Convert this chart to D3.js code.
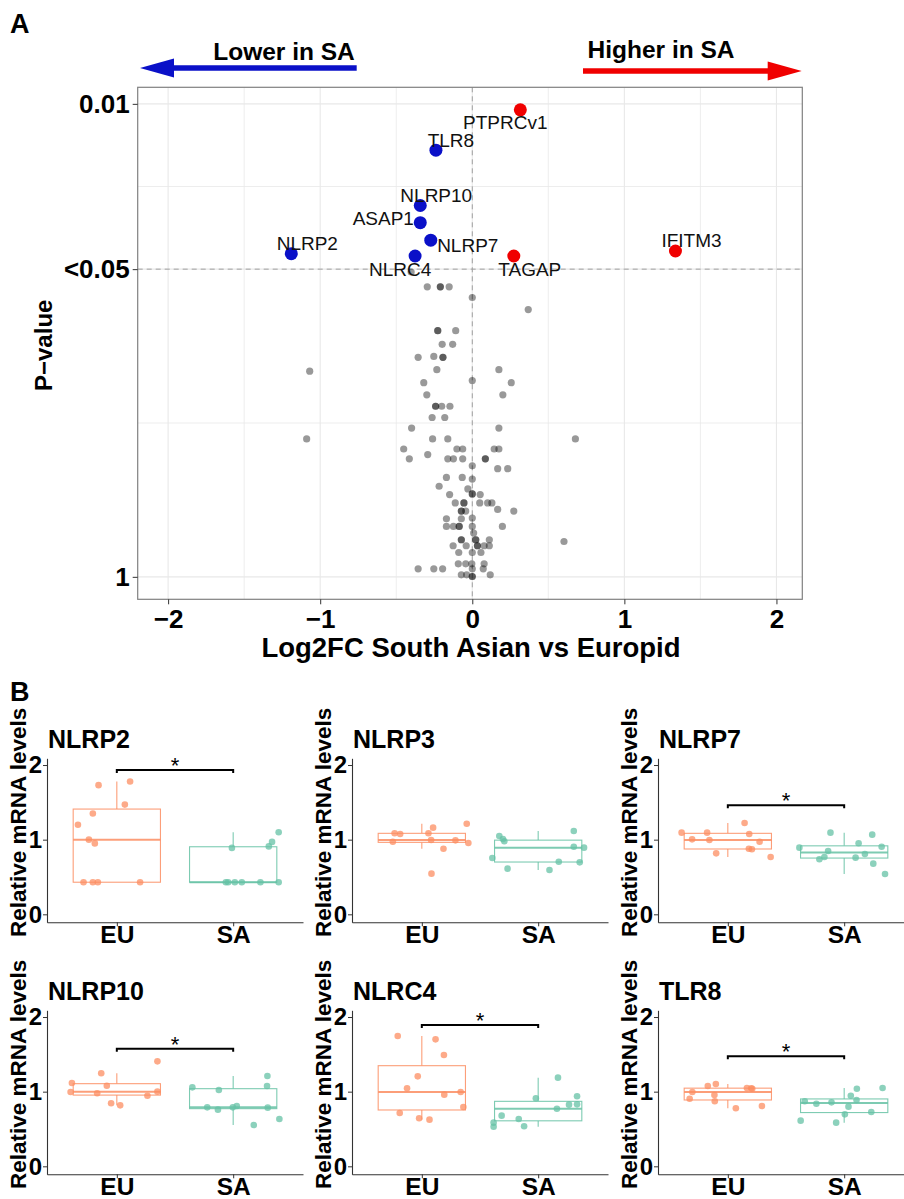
<!DOCTYPE html>
<html>
<head>
<meta charset="utf-8">
<script src="https://cdn.jsdelivr.net/npm/d3@7"></script>
<style>
  body { margin: 0; background: #fff; }
  svg { font-family: "Liberation Sans", Arial, Helvetica, sans-serif; }
</style>
</head>
<body>
<svg id="chart" width="904" height="1199"></svg>
<script>
// ---- Panel A: volcano plot ----
const geneLabels = ['PTPRCv1', 'TLR8', 'NLRP10', 'ASAP1', 'NLRP7', 'NLRP2', 'NLRC4', 'TAGAP', 'IFITM3'];
const geneLog2FC = [0.316, -0.239, -0.342, -0.342, -0.273, -1.190, -0.376, 0.273, 1.336];
const genePValue = [0.0106, 0.0157, 0.0269, 0.0318, 0.0377, 0.0430, 0.0440, 0.0440, 0.0419];

const otherLog2FC = [
  -0.402, -0.296, -0.210, -0.210, -0.152, 0, 0.368, -0.227, -0.227, -0.109,
  -0.198, -0.129, -0.356, -0.253, -0.193, -0.193, -1.069, -0.233, 0.175, -0.319,
  0, 0.256, -0.299, 0.201, -0.241, -0.241, -0.201, -0.147, -0.264, -0.181,
  -0.399, 0.175, -1.089, -0.261, -0.161, 0.678, -0.451, -0.101, -0.063, 0.144,
  0.175, -0.414, -0.293, -0.161, -0.124, -0.063, 0.086, 0.086, 0, 0.167,
  0.233, -0.170, -0.066, 0, -0.218, -0.029, 0, 0, -0.149, 0.052,
  -0.112, -0.055, -0.055, 0.049, 0.101, 0.129, 0.167, 0.273, -0.072, -0.072,
  -0.043, -0.170, -0.072, 0, -0.170, -0.124, -0.086, -0.086, 0, 0.198,
  0.009, -0.072, -0.072, 0.023, 0.023, 0.112, 0.603, -0.126, -0.040, 0.034,
  0.034, 0.078, 0.112, -0.089, 0, 0.057, -0.092, -0.043, -0.003, 0.078,
  -0.356, -0.253, -0.195, 0, 0.072, -0.072, -0.037, 0, 0, 0.118
];
const otherPValue = [
  0.0514, 0.0594, 0.0594, 0.0594, 0.0594, 0.0659, 0.0741, 0.0910, 0.0910, 0.0910,
  0.104, 0.104, 0.118, 0.117, 0.118, 0.118, 0.135, 0.133, 0.133, 0.151,
  0.148, 0.151, 0.170, 0.170, 0.190, 0.190, 0.190, 0.190, 0.212, 0.212,
  0.235, 0.235, 0.261, 0.261, 0.261, 0.261, 0.288, 0.288, 0.288, 0.288,
  0.288, 0.317, 0.304, 0.317, 0.317, 0.317, 0.317, 0.317, 0.339, 0.349,
  0.349, 0.380, 0.380, 0.386, 0.414, 0.425, 0.446, 0.446, 0.449, 0.449,
  0.487, 0.487, 0.487, 0.487, 0.487, 0.487, 0.519, 0.527, 0.527, 0.527,
  0.527, 0.568, 0.568, 0.564, 0.612, 0.612, 0.612, 0.612, 0.612, 0.612,
  0.653, 0.697, 0.697, 0.697, 0.697, 0.697, 0.709, 0.739, 0.739, 0.739,
  0.739, 0.739, 0.739, 0.789, 0.789, 0.789, 0.881, 0.881, 0.881, 0.881,
  0.925, 0.925, 0.925, 0.925, 0.925, 0.981, 0.981, 0.997, 0.997, 0.981
];

const fcTicks = [-2, -1, 0, 1, 2];
const pTickValues = [0.01, 0.05, 1];
const pTickLabels = ['0.01', '<0.05', '1'];

// ---- Panel B: relative mRNA boxplots ----
const groups = ['EU', 'SA'];
const boxGenes = ['NLRP2', 'NLRP3', 'NLRP7', 'NLRP10', 'NLRC4', 'TLR8'];
const euValues = [
  [1.73, 1.78, 1.47, 1.35, 1.20, 1.00, 0.95, 0.43, 0.43, 0.43, 0.43],
  [1.085, 1.076, 0.973, 1.085, 1.161, 1.214, 0.996, 0.991, 0.955, 0.879, 0.545],
  [1.094, 1.004, 1.094, 0.996, 0.817, 1.223, 1.076, 0.879, 0.871, 0.973, 0.768],
  [1.116, 0.996, 0.978, 1.246, 1.080, 0.844, 0.817, 0.946, 1.0, 1.406],
  [1.746, 1.701, 1.491, 1.205, 1.045, 0.960, 0.996, 0.795, 0.714, 0.643, 0.625],
  [0.906, 0.996, 1.076, 1.103, 0.955, 0.871, 0.777, 1.049, 1.045, 1.040, 0.808]
];
const euJitter = [
  [-0.157, 0.114, 0.069, -0.206, -0.334, -0.24, -0.189, -0.286, -0.206, -0.163, 0.2],
  [-0.234, -0.186, -0.249, 0.057, 0.097, 0.386, 0.08, 0.289, 0.4, 0.186, 0.083],
  [-0.397, -0.307, -0.178, -0.158, -0.1, 0.144, 0.184, 0.181, 0.207, 0.273, 0.368],
  [-0.386, -0.397, -0.169, -0.134, -0.086, -0.049, 0.029, 0.263, 0.349, 0.349],
  [-0.207, 0.118, 0.19, -0.035, -0.127, 0.193, 0.334, 0.357, -0.19, -0.023, 0.066],
  [-0.328, -0.305, -0.172, -0.103, -0.115, -0.112, 0.069, 0.164, 0.201, 0.21, 0.293]
];
const saValues = [
  [0.89, 1.10, 0.97, 0.91, 0.43, 0.43, 0.43, 0.43, 0.43, 0.43],
  [1.049, 1.009, 0.978, 0.754, 0.612, 0.705, 0.594, 0.696, 1.116, 0.906, 0.893],
  [0.893, 0.737, 0.768, 0.848, 1.094, 0.951, 0.759, 0.808, 1.067, 0.679, 0.906, 0.54],
  [1.058, 0.790, 0.759, 1.022, 0.790, 0.808, 0.554, 1.076, 1.210, 0.786, 0.634],
  [0.585, 0.531, 0.679, 0.634, 0.536, 0.911, 0.772, 1.188, 0.826, 0.938, 0.830],
  [0.612, 0.871, 0.839, 0.857, 0.585, 0.696, 0.799, 0.946, 1.040, 0.888, 0.728, 1.049]
];
const saJitter = [
  [-0.011, 0.391, 0.334, 0.306, -0.063, -0.043, 0.014, 0.074, 0.234, 0.391],
  [-0.334, -0.303, -0.291, -0.394, -0.263, 0.177, 0.097, 0.357, 0.306, 0.306, 0.394],
  [-0.385, -0.213, -0.170, -0.138, -0.118, 0.124, 0.098, 0.178, 0.241, 0.25, 0.322, 0.351],
  [-0.351, -0.223, -0.131, -0.123, -0.003, 0.031, 0.177, 0.291, 0.294, 0.297, 0.397],
  [-0.383, -0.383, -0.314, -0.167, -0.121, -0.02, 0.161, 0.17, 0.265, 0.334, 0.334],
  [-0.374, -0.339, -0.239, -0.109, -0.069, 0.006, 0.037, 0.057, 0.109, 0.106, 0.233, 0.33]
];
const sigBarLevel = [1.933, null, 1.46, 1.576, 1.893, 1.473];
const mrnaTicks = [0, 1, 2];

// label nudges for the volcano labels (pixels, from the dot centre)
const labelNudge = {
  PTPRCv1: [-15, 12], TLR8: [15, -10], NLRP10: [16, -10], ASAP1: [-37, -5],
  NLRP7: [37, 5], NLRP2: [16, -11], NLRC4: [-15, 13], TAGAP: [16, 13], IFITM3: [16, -11]
};

const svg = d3.select('#chart');
const nlp = p => -Math.log10(p);

// ================= Panel A =================
const plotA = { left: 137.7, right: 802.3, top: 87.3, bottom: 599.3 };
const xA = d3.scaleLinear().domain([-2.2, 2.17]).range([plotA.left, plotA.right]);
const yA = d3.scaleLinear().domain([-0.095, 2.07]).range([plotA.bottom, plotA.top]);

svg.append('text').attr('x', 10).attr('y', 33)
  .attr('font-size', 27).attr('font-weight', 'bold').text('A');

const gA = svg.append('g');

// grid
const xGrid = [-2, -1.5, -1, -0.5, 0, 0.5, 1, 1.5, 2];
const yMajor = pTickValues.map(nlp);
const yGrid = [yMajor[0], (yMajor[0] + yMajor[1]) / 2, yMajor[1], yMajor[1] / 2, yMajor[2]];

gA.selectAll('.xgrid').data(xGrid).enter().append('line')
  .attr('x1', d => xA(d)).attr('x2', d => xA(d))
  .attr('y1', plotA.top).attr('y2', plotA.bottom)
  .attr('stroke', '#e8e8e8').attr('stroke-width', d => Number.isInteger(d) ? 1.1 : 0.8);
gA.selectAll('.ygrid').data(yGrid).enter().append('line')
  .attr('x1', plotA.left).attr('x2', plotA.right)
  .attr('y1', d => yA(d)).attr('y2', d => yA(d))
  .attr('stroke', '#e8e8e8').attr('stroke-width', (d, i) => i % 2 === 0 ? 1.1 : 0.8);

// dashed reference lines
gA.append('line')
  .attr('x1', xA(0)).attr('x2', xA(0)).attr('y1', plotA.top).attr('y2', plotA.bottom)
  .attr('stroke', '#a0a0a0').attr('stroke-dasharray', '5,4');
gA.append('line')
  .attr('x1', plotA.left).attr('x2', plotA.right).attr('y1', yA(nlp(0.05))).attr('y2', yA(nlp(0.05)))
  .attr('stroke', '#a0a0a0').attr('stroke-dasharray', '5,4');

// other genes
gA.selectAll('.other').data(otherLog2FC).enter().append('circle')
  .attr('cx', d => xA(d))
  .attr('cy', (d, i) => yA(nlp(otherPValue[i])))
  .attr('r', 3.6)
  .attr('fill', '#000').attr('fill-opacity', 0.4);

// significant genes
gA.selectAll('.sig').data(geneLabels).enter().append('circle')
  .attr('cx', (d, i) => xA(geneLog2FC[i]))
  .attr('cy', (d, i) => yA(nlp(genePValue[i])))
  .attr('r', 6.5)
  .attr('fill', (d, i) => geneLog2FC[i] > 0 ? '#f00000' : '#0a10c8');

gA.selectAll('.lab').data(geneLabels).enter().append('text')
  .attr('x', (d, i) => xA(geneLog2FC[i]) + labelNudge[d][0])
  .attr('y', (d, i) => yA(nlp(genePValue[i])) + labelNudge[d][1])
  .attr('dy', '0.36em')
  .attr('text-anchor', 'middle')
  .attr('font-size', 19)
  .attr('fill', '#111')
  .text(d => d);

// panel border
gA.append('rect')
  .attr('x', plotA.left).attr('y', plotA.top)
  .attr('width', plotA.right - plotA.left).attr('height', plotA.bottom - plotA.top)
  .attr('fill', 'none').attr('stroke', '#808080').attr('stroke-width', 1.2);

// axes
const axAx = gA.append('g').attr('transform', `translate(0,${plotA.bottom})`)
  .call(d3.axisBottom(xA).tickValues(fcTicks).tickFormat(d3.format('d'))
    .tickSize(5).tickSizeOuter(0).tickPadding(5));
const axAy = gA.append('g').attr('transform', `translate(${plotA.left},0)`)
  .call(d3.axisLeft(yA).tickValues(yMajor).tickFormat((d, i) => pTickLabels[i])
    .tickSize(5).tickSizeOuter(0).tickPadding(3));
[axAx, axAy].forEach(ax => {
  ax.select('.domain').remove();
  ax.selectAll('.tick line').attr('stroke', '#333');
  ax.selectAll('text').attr('font-size', 26).attr('font-weight', 'bold').attr('fill', '#000')
    .attr('font-family', '"Liberation Sans", Arial, sans-serif');
});

svg.append('text')
  .attr('x', 471).attr('y', 657)
  .attr('text-anchor', 'middle').attr('font-size', 27.5).attr('font-weight', 'bold')
  .text('Log2FC South Asian vs Europid');
svg.append('text')
  .attr('transform', `translate(52,${(plotA.top + plotA.bottom) / 2 + 2}) rotate(-90)`)
  .attr('text-anchor', 'middle').attr('font-size', 24).attr('font-weight', 'bold')
  .text('P\u2212value');

// direction arrows above the panel
function arrow(x0, x1, y, color) {
  const dir = Math.sign(x1 - x0);
  const headLen = 34, headHalf = 9.5;
  gA.append('line')
    .attr('x1', x0).attr('x2', x1 - dir * (headLen - 2)).attr('y1', y).attr('y2', y)
    .attr('stroke', color).attr('stroke-width', 5.6);
  gA.append('path')
    .attr('d', `M${x1},${y} L${x1 - dir * headLen},${y - headHalf} L${x1 - dir * headLen},${y + headHalf} Z`)
    .attr('fill', color);
}
arrow(xA(-0.76), xA(-2.185), 68, '#0a10c8');
arrow(xA(0.728), xA(2.166), 71, '#f00000');
svg.append('text').attr('x', 284).attr('y', 60).attr('text-anchor', 'middle')
  .attr('font-size', 24.5).attr('font-weight', 'bold').text('Lower in SA');
svg.append('text').attr('x', 661).attr('y', 58).attr('text-anchor', 'middle')
  .attr('font-size', 24.5).attr('font-weight', 'bold').text('Higher in SA');

// ================= Panel B =================
svg.append('text').attr('x', 10).attr('y', 701)
  .attr('font-size', 27).attr('font-weight', 'bold').text('B');

const groupColor = { EU: '#fc8d62', SA: '#66c2a5' };
const colLeft = [47, 352, 658];
const rowBottom = [922.3, 1174.3];
const panelW = 256, panelH = 164;

function boxStats(vals) {
  const s = vals.slice().sort(d3.ascending);
  const q1 = d3.quantileSorted(s, 0.25);
  const med = d3.quantileSorted(s, 0.5);
  const q3 = d3.quantileSorted(s, 0.75);
  const iqr = q3 - q1;
  const lo = d3.min(s.filter(v => v >= q1 - 1.5 * iqr));
  const hi = d3.max(s.filter(v => v <= q3 + 1.5 * iqr));
  return { q1, med, q3, lo, hi };
}

boxGenes.forEach((gene, i) => {
  const left = colLeft[i % 3];
  const bottom = rowBottom[Math.floor(i / 3)];
  const top = bottom - panelH;
  const x = d3.scalePoint().domain(groups).range([left, left + panelW]).padding(0.6);
  const y = d3.scaleLinear().domain([-0.107, 2.09]).range([bottom, top]);
  const step = x.step();
  const g = svg.append('g');

  const sets = { EU: [euValues[i], euJitter[i]], SA: [saValues[i], saJitter[i]] };

  groups.forEach(grp => {
    const [vals, jit] = sets[grp];
    const st = boxStats(vals);
    const cx = x(grp), hw = 0.375 * step, col = groupColor[grp];
    const bg = g.append('g').attr('stroke', col).attr('stroke-opacity', 0.85).attr('fill', 'none');
    bg.append('line').attr('x1', cx).attr('x2', cx).attr('y1', y(st.q3)).attr('y2', y(st.hi)).attr('stroke-width', 1.1);
    bg.append('line').attr('x1', cx).attr('x2', cx).attr('y1', y(st.q1)).attr('y2', y(st.lo)).attr('stroke-width', 1.1);
    bg.append('rect').attr('x', cx - hw).attr('width', 2 * hw)
      .attr('y', y(st.q3)).attr('height', Math.max(0.5, y(st.q1) - y(st.q3)))
      .attr('fill', '#fff').attr('stroke-width', 1.1);
    bg.append('line').attr('x1', cx - hw).attr('x2', cx + hw)
      .attr('y1', y(st.med)).attr('y2', y(st.med)).attr('stroke-width', 2);

    g.selectAll(null).data(vals).enter().append('circle')
      .attr('cx', (d, k) => cx + jit[k] * step)
      .attr('cy', d => y(d))
      .attr('r', 3.3)
      .attr('fill', col).attr('fill-opacity', 0.75);
  });

  // significance bar
  if (sigBarLevel[i] != null) {
    const by = y(sigBarLevel[i]);
    const x1 = x('EU'), x2 = x('SA');
    g.append('path')
      .attr('d', `M${x1},${by + 3} L${x1},${by} L${x2},${by} L${x2},${by + 3}`)
      .attr('fill', 'none').attr('stroke', '#000').attr('stroke-width', 2);
    g.append('text').attr('x', (x1 + x2) / 2).attr('y', by + 3)
      .attr('text-anchor', 'middle').attr('font-size', 22).text('*');
  }

  // axes
  const ay = g.append('g').attr('transform', `translate(${left},0)`)
    .call(d3.axisLeft(y).tickValues(mrnaTicks).tickFormat(d3.format('d')).tickSize(4).tickSizeOuter(0).tickPadding(1));
  const ax = g.append('g').attr('transform', `translate(0,${bottom})`)
    .call(d3.axisBottom(x).tickSize(4).tickSizeOuter(0).tickPadding(-1));
  [ay, ax].forEach(a => {
    a.select('.domain').attr('stroke', '#333').attr('stroke-width', 1.1);
    a.selectAll('.tick line').attr('stroke', '#333');
    a.selectAll('text').attr('font-size', 24).attr('font-weight', 'bold').attr('fill', '#000')
      .attr('font-family', '"Liberation Sans", Arial, sans-serif');
  });
  ax.selectAll('text').attr('font-size', 24.5);

  g.append('text').attr('x', left + 1).attr('y', top - 10)
    .attr('font-size', 25).attr('font-weight', 'bold').text(gene);
  g.append('text')
    .attr('transform', `translate(${left - 21},${bottom - 100}) rotate(-90)`)
    .attr('text-anchor', 'middle').attr('font-size', 22.5).attr('font-weight', 'bold')
    .text('Relative mRNA levels');
});
</script>
</body>
</html>
